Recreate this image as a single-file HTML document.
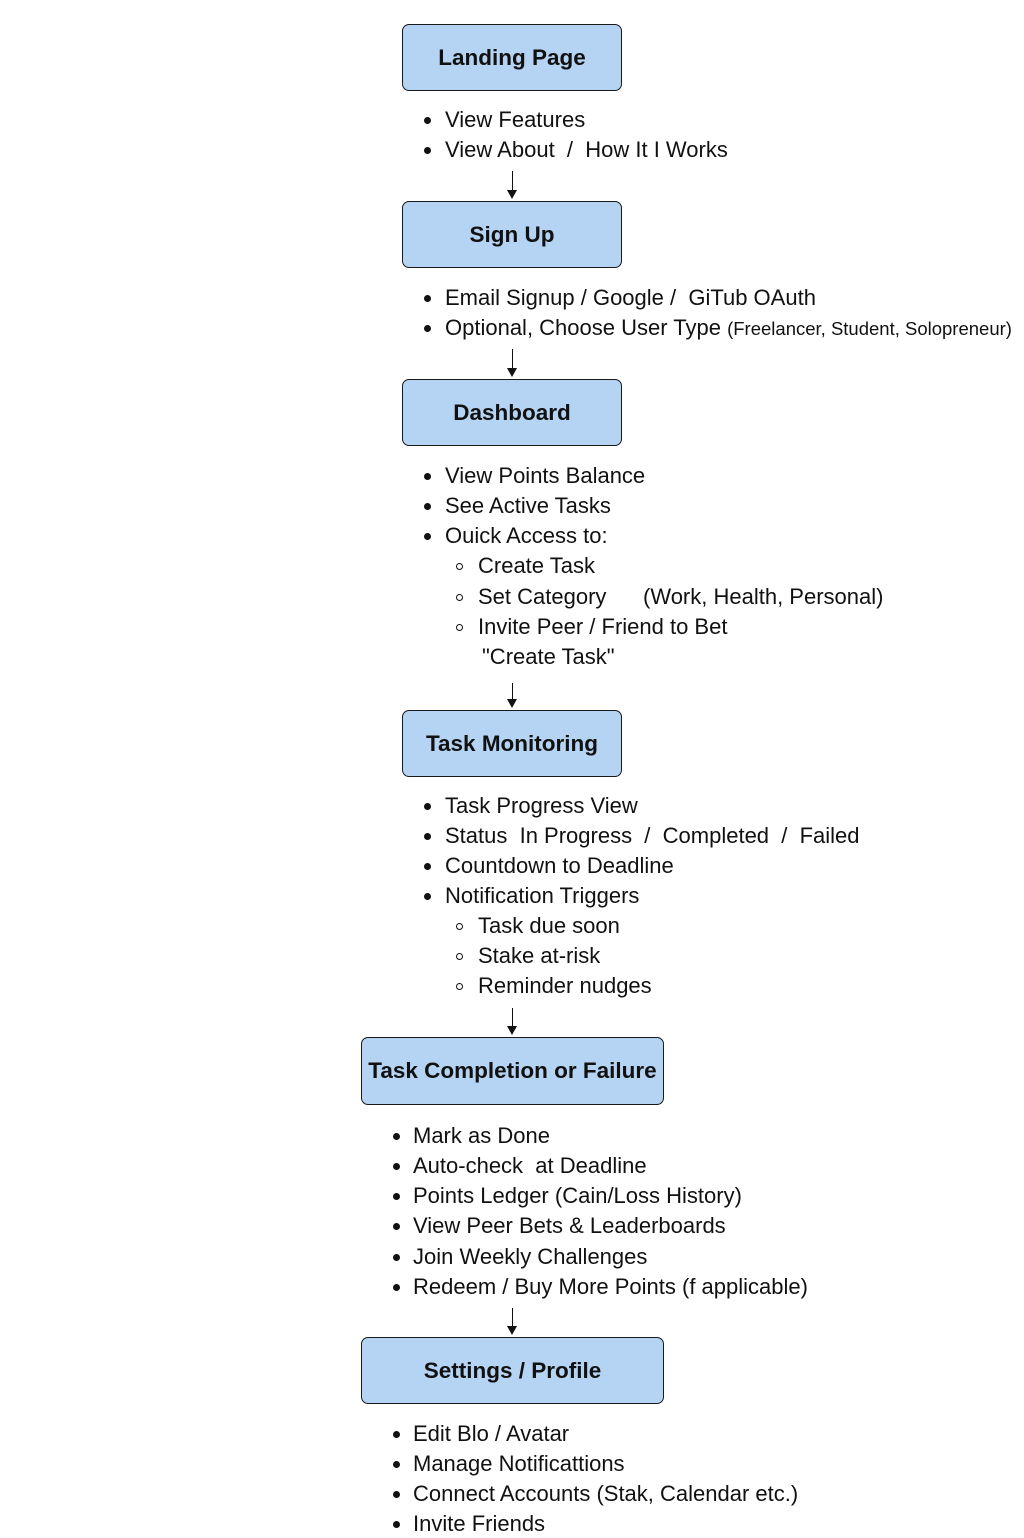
<!DOCTYPE html>
<html><head><meta charset="utf-8"><style>
html,body{margin:0;padding:0;background:#fff;}
body{width:1024px;height:1536px;position:relative;overflow:hidden;font-family:"Liberation Sans",sans-serif;color:#111;}
.box{position:absolute;background:#b5d3f3;border:1.5px solid #1a1a1a;border-radius:7px;box-sizing:border-box;display:flex;align-items:center;justify-content:center;font-weight:bold;font-size:22.5px;white-space:nowrap;}
.t{position:absolute;font-size:22px;line-height:28px;white-space:nowrap;}
.d{position:absolute;width:7px;height:7px;border-radius:50%;background:#111;}
.c{position:absolute;width:7px;height:7px;border-radius:50%;border:1.3px solid #111;box-sizing:border-box;}
.ln{position:absolute;width:1.3px;background:#111;left:511.5px;}
.ah{position:absolute;left:507px;width:0;height:0;border-left:5px solid transparent;border-right:5px solid transparent;border-top:9px solid #111;}
</style></head><body>

<div class="box" style="left:402px;top:24px;width:220px;height:67px;">Landing Page</div>
<div class="box" style="left:402px;top:201px;width:220px;height:67px;">Sign Up</div>
<div class="box" style="left:402px;top:379px;width:220px;height:67px;">Dashboard</div>
<div class="box" style="left:402px;top:710px;width:220px;height:67px;">Task Monitoring</div>
<div class="box" style="left:361px;top:1037px;width:303px;height:68px;">Task Completion or Failure</div>
<div class="box" style="left:361px;top:1337px;width:303px;height:67px;">Settings / Profile</div>

<div class="ln" style="top:171px;height:20px"></div><div class="ah" style="top:190px"></div>
<div class="ln" style="top:349px;height:20px"></div><div class="ah" style="top:368px"></div>
<div class="ln" style="top:683px;height:17px"></div><div class="ah" style="top:699px"></div>
<div class="ln" style="top:1008px;height:18px"></div><div class="ah" style="top:1026px"></div>
<div class="ln" style="top:1308px;height:18px"></div><div class="ah" style="top:1326px"></div>

<div class="d" style="left:424px;top:117px"></div><div class="t" style="left:445px;top:106px">View Features</div>
<div class="d" style="left:424px;top:147px"></div><div class="t" style="left:445px;top:136px">View About &nbsp;/ &nbsp;How It I Works</div>

<div class="d" style="left:424px;top:295px"></div><div class="t" style="left:445px;top:284px">Email Signup / Google / &nbsp;GiTub OAuth</div>
<div class="d" style="left:424px;top:325px"></div><div class="t" style="left:445px;top:314px">Optional, Choose User Type <span style="font-size:18.5px">(Freelancer, Student, Solopreneur)</span></div>

<div class="d" style="left:424px;top:473px"></div><div class="t" style="left:445px;top:462px">View Points Balance</div>
<div class="d" style="left:424px;top:503px"></div><div class="t" style="left:445px;top:492px">See Active Tasks</div>
<div class="d" style="left:424px;top:533px"></div><div class="t" style="left:445px;top:522px">Ouick Access to:</div>
<div class="c" style="left:456px;top:563px"></div><div class="t" style="left:478px;top:552px">Create Task</div>
<div class="c" style="left:456px;top:594px"></div><div class="t" style="left:478px;top:583px">Set Category</div><div class="t" style="left:643px;top:583px">(Work, Health, Personal)</div>
<div class="c" style="left:456px;top:624px"></div><div class="t" style="left:478px;top:613px">Invite Peer / Friend to Bet</div>
<div class="t" style="left:482px;top:643px">"Create Task"</div>

<div class="d" style="left:424px;top:803px"></div><div class="t" style="left:445px;top:792px">Task Progress View</div>
<div class="d" style="left:424px;top:833px"></div><div class="t" style="left:445px;top:822px">Status &nbsp;In Progress &nbsp;/ &nbsp;Completed &nbsp;/ &nbsp;Failed</div>
<div class="d" style="left:424px;top:863px"></div><div class="t" style="left:445px;top:852px">Countdown to Deadline</div>
<div class="d" style="left:424px;top:893px"></div><div class="t" style="left:445px;top:882px">Notification Triggers</div>
<div class="c" style="left:456px;top:923px"></div><div class="t" style="left:478px;top:912px">Task due soon</div>
<div class="c" style="left:456px;top:953px"></div><div class="t" style="left:478px;top:942px">Stake at-risk</div>
<div class="c" style="left:456px;top:983px"></div><div class="t" style="left:478px;top:972px">Reminder nudges</div>

<div class="d" style="left:393px;top:1133px"></div><div class="t" style="left:413px;top:1122px">Mark as Done</div>
<div class="d" style="left:393px;top:1163px"></div><div class="t" style="left:413px;top:1152px">Auto-check &nbsp;at Deadline</div>
<div class="d" style="left:393px;top:1193px"></div><div class="t" style="left:413px;top:1182px">Points Ledger (Cain/Loss History)</div>
<div class="d" style="left:393px;top:1223px"></div><div class="t" style="left:413px;top:1212px">View Peer Bets &amp; Leaderboards</div>
<div class="d" style="left:393px;top:1254px"></div><div class="t" style="left:413px;top:1243px">Join Weekly Challenges</div>
<div class="d" style="left:393px;top:1284px"></div><div class="t" style="left:413px;top:1273px">Redeem / Buy More Points (f applicable)</div>

<div class="d" style="left:393px;top:1431px"></div><div class="t" style="left:413px;top:1420px">Edit Blo / Avatar</div>
<div class="d" style="left:393px;top:1461px"></div><div class="t" style="left:413px;top:1450px">Manage Notificattions</div>
<div class="d" style="left:393px;top:1491px"></div><div class="t" style="left:413px;top:1480px">Connect Accounts (Stak, Calendar etc.)</div>
<div class="d" style="left:393px;top:1521px"></div><div class="t" style="left:413px;top:1510px">Invite Friends</div>

</body></html>
